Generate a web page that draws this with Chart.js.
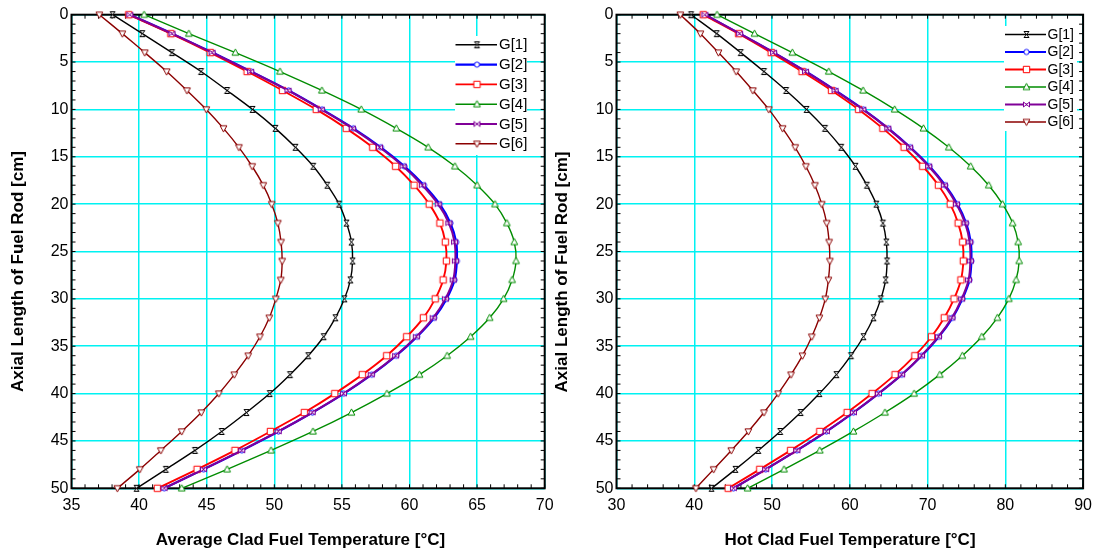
<!DOCTYPE html>
<html>
<head>
<meta charset="utf-8">
<title>Clad Fuel Temperature Profiles</title>
<script src="https://cdn.jsdelivr.net/npm/chart.js@4.4.0/dist/chart.umd.min.js"></script>
<style>
  html, body { margin: 0; padding: 0; background: #ffffff; }
  #wrap { position: relative; width: 1100px; height: 551px; overflow: hidden; }
  #avgBox { position: absolute; left: 0; top: 0; width: 580px; height: 551px; }
  #hotBox { position: absolute; left: 550px; top: 0; width: 550px; height: 551px; }
  canvas { display: block; }
</style>
</head>
<body>
<div id="wrap">
  <div id="avgBox"><canvas id="avgChart" width="580" height="551"></canvas></div>
  <div id="hotBox"><canvas id="hotChart" width="550" height="551"></canvas></div>
</div>
<script>
// Axial positions along the fuel rod (cm), one sample every 2 cm
const axialCm = [0, 2, 4, 6, 8, 10, 12, 14, 16, 18, 20, 22, 24, 26, 28, 30, 32, 34, 36, 38, 40, 42, 44, 46, 48, 50];

const seriesLabels = ['G[1]', 'G[2]', 'G[3]', 'G[4]', 'G[5]', 'G[6]'];

// Average clad fuel temperature (°C) per group
const avgG1 = [38.04, 40.24, 42.43, 44.58, 46.51, 48.39, 50.08, 51.56, 52.88, 53.92, 54.79, 55.34, 55.71, 55.79, 55.63, 55.19, 54.52, 53.65, 52.51, 51.16, 49.66, 47.94, 46.11, 44.13, 41.98, 39.81];
const avgG2 = [39.31, 42.45, 45.43, 48.29, 51.06, 53.53, 55.85, 57.88, 59.63, 61.07, 62.24, 63.03, 63.45, 63.50, 63.33, 62.74, 61.83, 60.56, 59.02, 57.21, 55.14, 52.82, 50.31, 47.60, 44.77, 41.86];
const avgG3 = [39.23, 42.35, 45.26, 47.99, 50.61, 53.10, 55.32, 57.28, 58.97, 60.34, 61.46, 62.25, 62.65, 62.73, 62.49, 61.90, 61.03, 59.79, 58.31, 56.51, 54.47, 52.22, 49.71, 47.09, 44.29, 41.35];
const avgG4 = [40.37, 43.68, 47.12, 50.42, 53.52, 56.43, 59.02, 61.38, 63.36, 65.00, 66.32, 67.20, 67.75, 67.88, 67.59, 66.96, 65.93, 64.52, 62.78, 60.74, 58.33, 55.71, 52.86, 49.76, 46.51, 43.15];
const avgG5 = [39.31, 42.43, 45.40, 48.25, 51.01, 53.47, 55.77, 57.78, 59.52, 60.95, 62.12, 62.91, 63.33, 63.39, 63.23, 62.65, 61.75, 60.50, 58.97, 57.17, 55.11, 52.80, 50.29, 47.59, 44.76, 41.85];
const avgG6 = [37.06, 38.76, 40.42, 42.04, 43.54, 44.97, 46.24, 47.38, 48.36, 49.18, 49.81, 50.26, 50.50, 50.58, 50.48, 50.11, 49.63, 48.94, 48.07, 47.04, 45.90, 44.60, 43.15, 41.61, 40.05, 38.39];

// Hot clad fuel temperature (°C) per group
const hotG1 = [39.59, 42.89, 45.97, 48.96, 51.81, 54.44, 56.81, 58.90, 60.73, 62.20, 63.41, 64.26, 64.70, 64.79, 64.61, 63.99, 63.05, 61.76, 60.15, 58.28, 56.09, 53.68, 51.05, 48.24, 45.30, 42.22];
const hotG2 = [41.37, 45.85, 50.23, 54.35, 58.15, 61.73, 64.95, 67.78, 70.25, 72.27, 73.84, 74.96, 75.55, 75.63, 75.39, 74.48, 73.21, 71.45, 69.25, 66.69, 63.70, 60.47, 56.99, 53.20, 49.19, 45.04];
const hotG3 = [41.15, 45.70, 49.89, 53.86, 57.65, 61.13, 64.25, 66.98, 69.38, 71.39, 72.91, 73.93, 74.51, 74.60, 74.29, 73.40, 72.15, 70.50, 68.36, 65.82, 62.87, 59.66, 56.14, 52.39, 48.42, 44.36];
const hotG4 = [42.93, 47.75, 52.61, 57.30, 61.71, 65.77, 69.47, 72.73, 75.54, 77.86, 79.64, 80.94, 81.65, 81.78, 81.38, 80.45, 78.97, 76.97, 74.47, 71.57, 68.27, 64.52, 60.46, 56.14, 51.54, 46.86];
const hotG5 = [41.37, 45.83, 50.20, 54.31, 58.10, 61.67, 64.88, 67.69, 70.14, 72.15, 73.71, 74.83, 75.41, 75.50, 75.27, 74.38, 73.13, 71.39, 69.21, 66.66, 63.68, 60.46, 56.98, 53.19, 49.18, 45.03];
const hotG6 = [38.21, 40.79, 43.11, 45.39, 47.53, 49.58, 51.36, 52.97, 54.35, 55.51, 56.40, 57.03, 57.34, 57.43, 57.25, 56.85, 56.09, 55.11, 53.91, 52.44, 50.78, 48.96, 46.95, 44.76, 42.49, 40.21];

// Axis ranges and tick steps
const axialRange = [0, 50];
const axialStep = 5;
const avgTempRange = [35, 70];
const avgTempStep = 5;
const hotTempRange = [30, 90];
const hotTempStep = 10;

const avgXTitle = 'Average Clad Fuel Temperature [°C]';
const hotXTitle = 'Hot Clad Fuel Temperature [°C]';
const yTitle = 'Axial Length of Fuel Rod [cm]';

const seriesColors = ['#000000', '#0000ff', '#ff0000', '#008c00', '#800098', '#8b0000'];
const lineWidths = [1.4, 2.2, 1.9, 1.4, 2.0, 1.4];
const markerKinds = ['hourglass', 'circle', 'square', 'triUp', 'bowtie', 'triDown'];

const FONT = '"Liberation Sans", Arial, Helvetica, sans-serif';
Chart.defaults.font.family = FONT;
Chart.defaults.font.size = 16;
Chart.defaults.color = '#000000';

// Small open markers drawn on their own canvases
function makeMarker(kind, color) {
  const s = 11;
  const c = document.createElement('canvas');
  c.width = s; c.height = s;
  const g = c.getContext('2d');
  g.translate(s / 2, s / 2);
  g.strokeStyle = color;
  g.fillStyle = '#ffffff';
  g.lineWidth = 1;
  g.beginPath();
  switch (kind) {
    case 'hourglass':
      g.moveTo(-2.5, -3); g.lineTo(2.5, -3); g.lineTo(-2.5, 3); g.lineTo(2.5, 3); g.closePath();
      break;
    case 'bowtie':
      g.moveTo(-3, -2.5); g.lineTo(-3, 2.5); g.lineTo(3, -2.5); g.lineTo(3, 2.5); g.closePath();
      break;
    case 'circle':
      g.arc(0, 0, 2.6, 0, Math.PI * 2);
      break;
    case 'square':
      g.rect(-3.2, -3.2, 6.4, 6.4);
      break;
    case 'triUp':
      g.moveTo(0, -3.6); g.lineTo(3.4, 2.6); g.lineTo(-3.4, 2.6); g.closePath();
      break;
    case 'triDown':
      g.moveTo(0, 3.6); g.lineTo(3.4, -2.6); g.lineTo(-3.4, -2.6); g.closePath();
      break;
  }
  g.fill();
  g.stroke();
  return c;
}
const markers = markerKinds.map((k, i) => makeMarker(k, seriesColors[i]));

// Later groups are painted over earlier ones (lower order = drawn later)
function buildDatasets(series) {
  return seriesLabels.map((label, i) => ({
    label: label,
    order: seriesLabels.length - i,
    data: series[i].map((t, k) => ({ x: t, y: axialCm[k] })),
    borderColor: seriesColors[i],
    backgroundColor: seriesColors[i],
    borderWidth: lineWidths[i],
    pointStyle: markers[i],
    pointRadius: 4,
    pointHoverRadius: 4,
    tension: 0.3,
    fill: false,
    clip: false
  }));
}

function steps(from, to, step) {
  const out = [];
  for (let v = from; v <= to + 1e-9; v += step) out.push(v);
  return out;
}

// Box frame with small inward ticks on all four sides
const framePlugin = {
  id: 'frameTicks',
  beforeDatasetsDraw(chart, args, opts) {
    const { ctx, chartArea: a } = chart;
    const xs = chart.scales.x, ys = chart.scales.y;
    const len = 4;
    ctx.save();
    ctx.strokeStyle = '#000000';
    ctx.lineWidth = 1;
    ctx.beginPath();
    opts.xMinor.forEach(v => {
      const p = xs.getPixelForValue(v);
      ctx.moveTo(p, a.bottom); ctx.lineTo(p, a.bottom - len);
      ctx.moveTo(p, a.top); ctx.lineTo(p, a.top + len);
    });
    opts.yMinor.forEach(v => {
      const p = ys.getPixelForValue(v);
      ctx.moveTo(a.left, p); ctx.lineTo(a.left + len, p);
      ctx.moveTo(a.right, p); ctx.lineTo(a.right - len, p);
    });
    ctx.stroke();
    ctx.lineWidth = 2;
    ctx.strokeRect(a.left, a.top, a.right - a.left, a.bottom - a.top);
    ctx.restore();
  }
};

// Legend box in the upper right of the plot
const legendPlugin = {
  id: 'insetLegend',
  afterDatasetsDraw(chart, args, o) {
    const ctx = chart.ctx;
    ctx.save();
    ctx.fillStyle = '#ffffff';
    ctx.fillRect(o.box[0], o.box[1], o.box[2] - o.box[0], o.box[3] - o.box[1]);
    ctx.font = o.fontSize + 'px ' + FONT;
    ctx.textBaseline = 'middle';
    ctx.textAlign = 'left';
    chart.data.datasets.forEach((ds, i) => {
      const y = o.y0 + i * o.dy;
      ctx.strokeStyle = ds.borderColor;
      ctx.lineWidth = ds.borderWidth;
      ctx.beginPath();
      ctx.moveTo(o.x0, y); ctx.lineTo(o.x1, y);
      ctx.stroke();
      const m = ds.pointStyle;
      ctx.drawImage(m, o.mx - m.width / 2, y - m.height / 2);
      ctx.fillStyle = '#000000';
      ctx.fillText(ds.label, o.tx, y + 0.5);
    });
    ctx.restore();
  }
};

// Bold axis titles
const titlePlugin = {
  id: 'axisTitles',
  afterDraw(chart, args, o) {
    const ctx = chart.ctx;
    ctx.save();
    ctx.fillStyle = '#000000';
    ctx.font = 'bold 17px ' + FONT;
    ctx.textAlign = 'center';
    ctx.textBaseline = 'middle';
    ctx.fillText(o.xText, o.xPos[0], o.xPos[1]);
    ctx.translate(o.yPos[0], o.yPos[1]);
    ctx.rotate(-Math.PI / 2);
    ctx.fillText(o.yText, 0, 0);
    ctx.restore();
  }
};

function makeChart(canvasId, series, xRange, xStep, xMinorStep, yAxisWidth, padRight, legendOpts, titleOpts) {
  return new Chart(document.getElementById(canvasId), {
    type: 'line',
    data: { datasets: buildDatasets(series) },
    options: {
      responsive: false,
      animation: false,
      events: [],
      layout: { padding: { top: 14.7, right: padRight, bottom: 0, left: 0 } },
      scales: {
        x: {
          type: 'linear',
          min: xRange[0], max: xRange[1],
          ticks: { stepSize: xStep, padding: 8, font: { size: 16 }, color: '#000000' },
          grid: { color: '#00f2f2', lineWidth: 1.5, drawTicks: false },
          border: { display: false },
          afterFit(scale) { scale.height = 62.7; }
        },
        y: {
          type: 'linear',
          reverse: true,
          min: axialRange[0], max: axialRange[1],
          ticks: { stepSize: axialStep, padding: 3, font: { size: 16 }, color: '#000000' },
          grid: { color: '#00f2f2', lineWidth: 1.5, drawTicks: false },
          border: { display: false },
          afterFit(scale) { scale.width = yAxisWidth; }
        }
      },
      plugins: {
        legend: { display: false },
        tooltip: { enabled: false },
        frameTicks: { xMinor: steps(xRange[0], xRange[1], xMinorStep), yMinor: steps(axialRange[0], axialRange[1], 1) },
        insetLegend: legendOpts,
        axisTitles: titleOpts
      }
    },
    plugins: [framePlugin, legendPlugin, titlePlugin]
  });
}

makeChart('avgChart',
  [avgG1, avgG2, avgG3, avgG4, avgG5, avgG6],
  avgTempRange, avgTempStep, 1, 71.5, 35.3,
  { box: [455, 36, 527, 155], x0: 455.5, x1: 497, mx: 477, tx: 499, y0: 44.8, dy: 19.8, fontSize: 15 },
  { xText: avgXTitle, xPos: [300.5, 540], yText: yTitle, yPos: [18, 271.5] });

makeChart('hotChart',
  [hotG1, hotG2, hotG3, hotG4, hotG5, hotG6],
  hotTempRange, hotTempStep, 2, 66.5, 12.3,
  { box: [454, 26, 527, 131], x0: 455, x1: 496, mx: 476.5, tx: 497.5, y0: 34.5, dy: 17.5, fontSize: 14 },
  { xText: hotXTitle, xPos: [300, 540], yText: yTitle, yPos: [12.5, 272] });
</script>
</body>
</html>
